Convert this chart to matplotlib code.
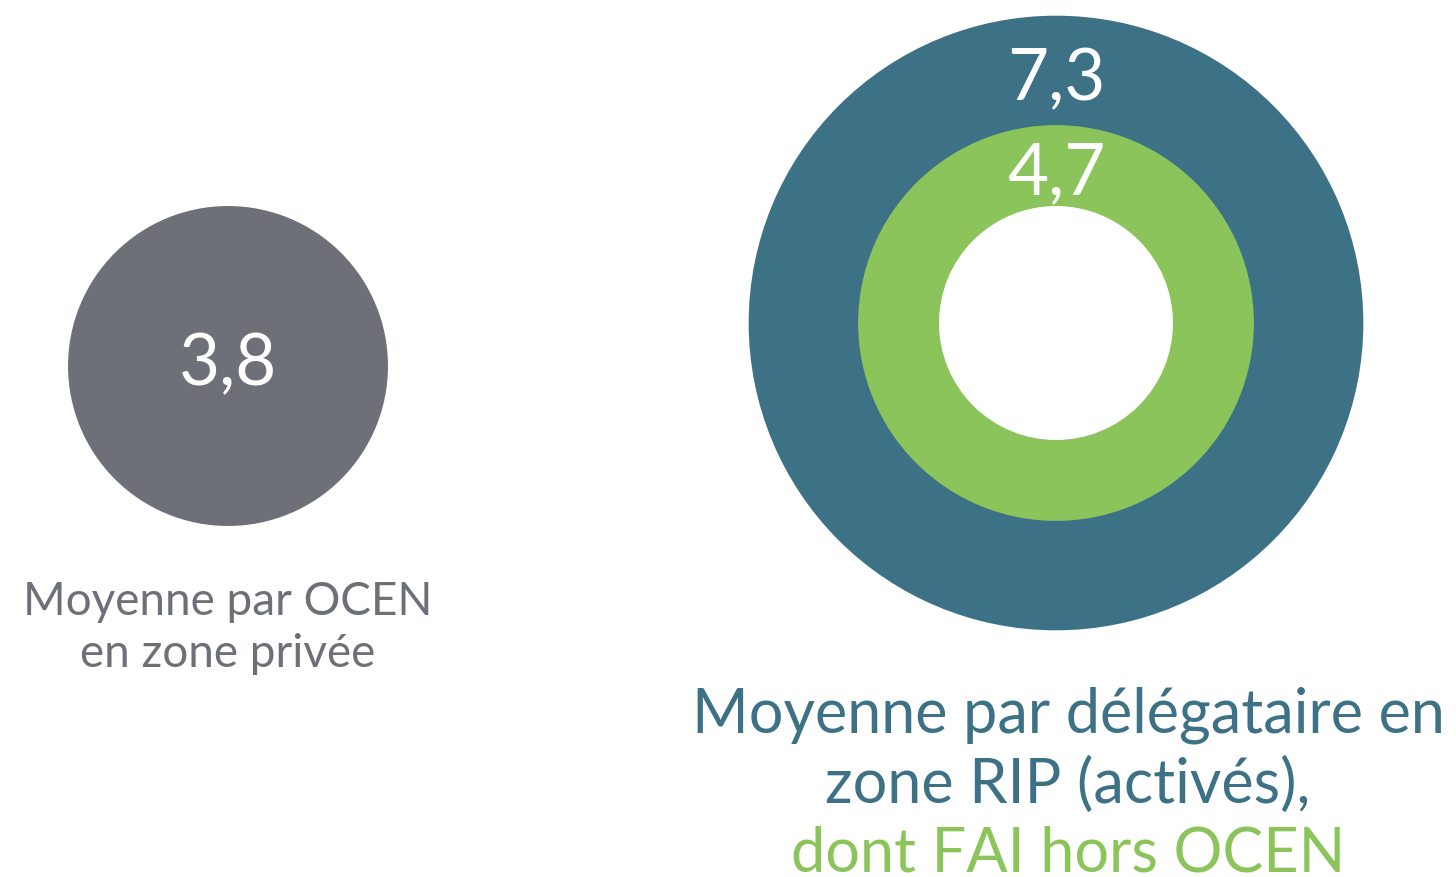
import matplotlib
matplotlib.use("Agg")

import matplotlib.pyplot as plt
from matplotlib.patches import Circle

# Values (radius of each disc is proportional to its value)
private_value = 3.8
rip_value = 7.3
fai_value = 4.7

private_label = ["Moyenne par OCEN", "en zone privée"]
rip_label = ["Moyenne par délégataire en", "zone RIP (activés),"]
fai_label = "dont FAI hors OCEN"

GRAY = "#6e7077"
BLUE = "#3d7186"
GREEN = "#8bc45a"
PX_PER_UNIT = 42.1
HOLE_RADIUS = 117

plt.rcParams["font.family"] = ["Lato", "DejaVu Sans"]

fig = plt.figure(figsize=(14.56, 8.77), dpi=100)
ax = fig.add_axes([0, 0, 1, 1])
ax.set_xlim(0, 1456)
ax.set_ylim(877, 0)
ax.set_aspect("equal")
ax.axis("off")

def fmt(v):
    return f"{v:.1f}".replace(".", ",")

num_style = dict(color="white", fontsize=51, ha="center", va="baseline")

# Left disc
ax.add_patch(Circle((228, 366), private_value * PX_PER_UNIT, color=GRAY, lw=0))
ax.text(228, 385, fmt(private_value), **num_style)
ax.text(228, 615, private_label[0], color=GRAY, fontsize=33, ha="center", va="baseline")
ax.text(228, 667, private_label[1], color=GRAY, fontsize=33, ha="center", va="baseline")

# Right nested discs
cx, cy = 1056, 323
ax.add_patch(Circle((cx, cy), rip_value * PX_PER_UNIT, color=BLUE, lw=0))
ax.add_patch(Circle((cx, cy), fai_value * PX_PER_UNIT, color=GREEN, lw=0))
ax.add_patch(Circle((cx, cy), HOLE_RADIUS, color="white", lw=0))
ax.text(cx, 100, fmt(rip_value), **num_style)
ax.text(cx, 194, fmt(fai_value), **num_style)

ax.text(1068, 733, rip_label[0], color=BLUE, fontsize=44, ha="center", va="baseline")
ax.text(1068, 803, rip_label[1], color=BLUE, fontsize=44, ha="center", va="baseline")
ax.text(1068, 872, fai_label, color=GREEN, fontsize=44, ha="center", va="baseline")

fig.savefig("out.png", dpi=100)
